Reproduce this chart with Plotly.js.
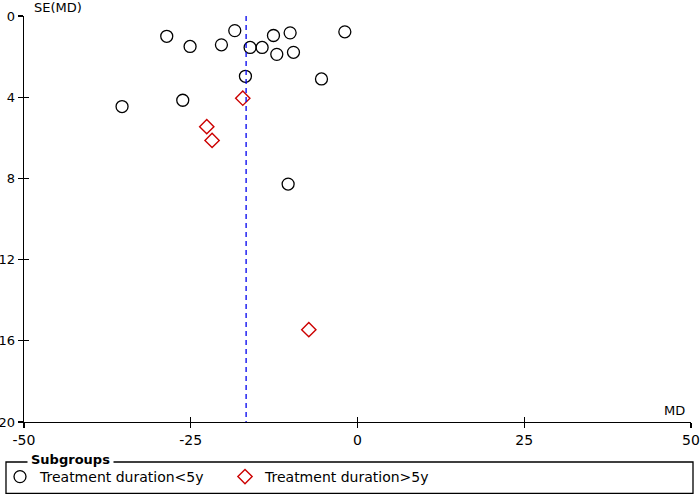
<!DOCTYPE html>
<html>
<head>
<meta charset="utf-8">
<script src="https://cdn.plot.ly/plotly-3.0.1.min.js"></script>
<style>html,body{margin:0;padding:0;background:#fff;}#chart{width:700px;height:495px;}</style>
</head>
<body>
<div id="chart"></div>
<script>
// Subgroup: Treatment duration<5y
const mdShort = [-35.3, -28.6, -25.1, -26.2, -20.4, -18.4, -16.1, -16.8, -14.3, -12.6, -12.1, -10.1, -9.6, -1.9, -5.4, -10.4];
const seShort = [4.46, 1.0, 1.5, 4.15, 1.42, 0.72, 1.55, 2.97, 1.55, 0.96, 1.89, 0.83, 1.79, 0.78, 3.10, 8.28];
// Subgroup: Treatment duration>5y
const mdLong = [-17.2, -22.6, -21.8, -7.3];
const seLong = [4.05, 5.45, 6.13, 15.45];
// Pooled estimate line
const pooledMD = [-16.7, -16.7];
const pooledSE = [0, 20];
// Tick labels
const xTickVals = [-50, -25, 0, 25, 50];
const xTickText = ["-50", "-25", "0", "25", "50"];
const yTickVals = [0, 4, 8, 12, 16, 20];
const yTickText = ["0", "4", "8", "12", "16", "20"];
const seriesNames = ["Treatment duration<5y", "Treatment duration>5y"];

const FONT = "DejaVu Sans, sans-serif";

const traces = [
  {
    x: mdShort, y: seShort, type: "scatter", mode: "markers", name: seriesNames[0],
    marker: {symbol: "circle-open", size: 12, color: "#000", line: {width: 1.3, color: "#000"}}
  },
  {
    x: mdLong, y: seLong, type: "scatter", mode: "markers", name: seriesNames[1],
    marker: {symbol: "diamond-open", size: 11, color: "#cc0000", line: {width: 1.4, color: "#cc0000"}}
  },
  {
    x: pooledMD, y: pooledSE, type: "scatter", mode: "lines", showlegend: false,
    xaxis: "x2", yaxis: "y2",
    line: {color: "#0000ee", width: 1.3, dash: "5px,4px"}, hoverinfo: "skip"
  }
];

const layout = {
  width: 700, height: 495,
  margin: {l: 24, r: 9, t: 16, b: 73},
  paper_bgcolor: "#fff", plot_bgcolor: "#fff",
  font: {family: FONT, size: 13, color: "#000"},
  showlegend: true,
  xaxis: {
    range: [-50, 50], autorange: false, zeroline: false, showgrid: false,
    showline: true, linecolor: "#000", linewidth: 1.3,
    ticks: "outside", ticklen: 5, tickwidth: 1.3, tickcolor: "#000",
    tickvals: xTickVals, ticktext: xTickText, tickfont: {family: FONT, size: 14},
    anchor: "y", fixedrange: true
  },
  yaxis: {
    range: [20, 0], autorange: false, zeroline: false, showgrid: false,
    showline: true, linecolor: "#000", linewidth: 1.3,
    ticks: "outside", ticklen: 5, tickwidth: 1.3, tickcolor: "#000",
    tickvals: yTickVals, ticktext: yTickText, tickfont: {family: FONT, size: 13},
    anchor: "x", fixedrange: true
  },
  xaxis2: {
    overlaying: "x", anchor: "y2", side: "bottom", range: [-50, 50], autorange: false,
    showgrid: false, zeroline: false, showline: false, showticklabels: false,
    ticks: "inside", ticklen: 5, tickwidth: 1.3, tickcolor: "#000", tickvals: xTickVals
  },
  yaxis2: {
    overlaying: "y", anchor: "x2", side: "left", range: [20, 0], autorange: false,
    showgrid: false, zeroline: false, showline: false, showticklabels: false,
    ticks: "inside", ticklen: 5, tickwidth: 1.3, tickcolor: "#000", tickvals: yTickVals
  },
  legend: {
    orientation: "h", xref: "container", yref: "container",
    x: 0, xanchor: "left", y: 1 - 477 / 495, yanchor: "middle",
    bgcolor: "rgba(0,0,0,0)", borderwidth: 0,
    font: {family: FONT, size: 14, color: "#000"},
    entrywidth: 180, entrywidthmode: "pixels", itemclick: false, itemdoubleclick: false
  },
  shapes: [
    {type: "rect", xref: "paper", yref: "paper", x0: -0.027, x1: 1.003, y0: -0.1756, y1: -0.0985,
     line: {color: "#000", width: 1.3}, fillcolor: "rgba(0,0,0,0)", layer: "above"}
  ],
  annotations: [
    {text: "SE(MD)", xref: "paper", yref: "paper", x: 0.012, y: 1.021, xanchor: "left", yanchor: "middle",
     showarrow: false, font: {family: FONT, size: 13}},
    {text: "MD", xref: "paper", yref: "paper", x: 0.994, y: 0.029, xanchor: "right", yanchor: "middle",
     showarrow: false, font: {family: FONT, size: 13}},
    {text: "<b>Subgroups</b>", xref: "paper", yref: "paper", x: 0.004, y: -0.0919, xanchor: "left", yanchor: "middle",
     showarrow: false, bgcolor: "#fff", borderpad: 3, font: {family: FONT, size: 13}}
  ]
};

Plotly.newPlot("chart", traces, layout, {displayModeBar: false, staticPlot: true});
</script>
</body>
</html>
